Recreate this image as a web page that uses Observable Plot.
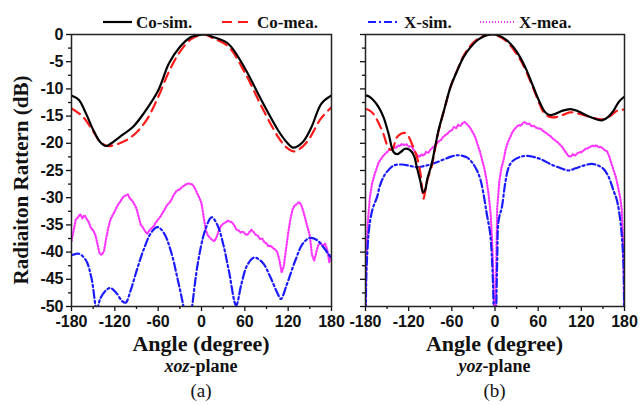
<!DOCTYPE html>
<html><head><meta charset="utf-8">
<script src="https://cdn.jsdelivr.net/npm/d3@7"></script>
<script src="https://cdn.jsdelivr.net/npm/@observablehq/plot@0.6"></script>
<style>
body{margin:0;background:#fff;width:640px;height:405px;overflow:hidden}
#legend{height:30px}
#row{display:flex;height:375px}
svg{overflow:visible}
</style></head><body>
<div id="legend"></div><div id="row"></div>
<script>
// ---------- data ----------
const seriesNames = ["Co-sim.", "Co-mea.", "X-sim.", "X-mea."];
const xTicks = [-180, -120, -60, 0, 60, 120, 180];
const yTicks = [-50, -45, -40, -35, -30, -25, -20, -15, -10, -5, 0];

// (a) xoz-plane
const xozCoSimAngle = [-180,-170,-160,-150,-140,-132,-125,-110,-95,-80,-60,-45,-30,-15,0,5,15,37,60,83,106,118,127,140,152,166,180];
const xozCoSimDb    = [-11.2,-12.0,-14.5,-17.5,-19.8,-20.5,-20.0,-18.5,-17.0,-14.5,-10.3,-5.3,-2.3,-0.5,-0.05,0,-0.4,-1.7,-6.2,-12.1,-17.6,-19.8,-20.8,-19.8,-17.1,-12.7,-11.2];
const xozCoMeaAngle = [-180,-165,-150,-140,-130,-120,-105,-90,-75,-60,-45,-30,-15,0,5,15,37,60,83,106,118,128,140,150,165,180];
const xozCoMeaDb    = [-13.6,-15.0,-17.8,-19.8,-20.5,-20.3,-19.5,-18.0,-15.5,-11.5,-6.8,-3.2,-0.9,-0.05,0,-0.6,-2.2,-7.0,-13.2,-18.8,-20.8,-21.5,-20.6,-19.0,-15.5,-13.4];
const xozXSimAngle  = [-180,-170,-160,-152,-145,-140,-132,-126,-118,-110,-105,-98,-90,-80,-70,-61,-52,-42,-33,-25,-20,-17,-13,-5,5,14,22,30,38,48,55,63,73,85,95,105,110,118,130,140,150,160,170,180];
const xozXSimDb     = [-40.6,-40.3,-41.5,-45,-50.5,-48.5,-47,-46.6,-47.5,-49,-49.3,-47,-43.5,-39.5,-36.5,-35.4,-36.5,-40,-45,-50,-54,-54,-50,-42,-36,-33.6,-35,-38.5,-43.5,-49.8,-46,-42.5,-41,-42,-44.5,-47.5,-48.6,-46,-41.5,-38.5,-37.4,-37.8,-39.3,-41.2];
const xozXMeaAngle  = [-180,-177,-174,-171,-168,-165,-162,-159,-156,-153,-150,-147,-144,-141,-138,-135,-132,-129,-126,-123,-120,-117,-114,-111,-108,-105,-102,-99,-96,-93,-90,-87,-84,-81,-78,-75,-72,-69,-66,-63,-60,-57,-54,-51,-48,-45,-42,-39,-36,-33,-30,-27,-24,-21,-18,-15,-12,-9,-6,-3,0,3,6,9,12,15,18,21,24,27,30,33,36,39,42,45,48,51,54,57,60,63,66,69,72,75,78,81,84,87,90,93,96,99,102,105,108,111,114,117,120,123,126,129,132,135,138,141,144,147,150,153,156,159,162,165,168,171,174,177,180];
const xozXMeaDb     = [-38.0,-36.0,-34.0,-33.6,-33.0,-33.8,-33.2,-33.9,-34.5,-35.6,-36.0,-36.8,-38.5,-40.3,-40.5,-39.8,-37.5,-35.5,-34.0,-33.2,-32.5,-31.6,-31.0,-30.4,-29.8,-29.6,-29.4,-30.2,-30.5,-31.2,-32.0,-33.5,-35.0,-35.5,-36.2,-36.6,-36.0,-35.6,-35.2,-34.5,-34.0,-33.5,-32.8,-32.2,-31.4,-31.0,-30.5,-29.6,-29.0,-28.6,-28.5,-28.0,-27.8,-27.5,-27.4,-27.5,-27.6,-28.3,-29.2,-30.0,-31.0,-33.5,-36.0,-37.0,-37.4,-37.8,-38.0,-37.2,-36.0,-35.2,-34.8,-34.6,-34.2,-34.4,-34.5,-35.0,-35.8,-36.0,-36.4,-36.2,-36.6,-36.9,-36.4,-35.9,-36.3,-36.8,-37.0,-37.6,-37.5,-38.2,-38.4,-39.0,-38.8,-39.3,-39.5,-40.0,-41.5,-43.8,-42.5,-39.5,-36.5,-34.0,-32.2,-31.4,-31.2,-30.8,-31.3,-32.5,-34.0,-35.5,-37.0,-40.5,-41.6,-40.0,-38.6,-38.3,-38.9,-38.4,-39.5,-41.9,-40.5];

// (b) yoz-plane
const yozCoSimAngle = [-180,-175,-169,-162,-155,-148,-141,-136,-131,-125,-120,-115.5,-112,-108.6,-104,-100,-97,-94,-88,-83,-78.5,-70,-62,-52,-44,-35,-25,-15,-5,5,16.6,26,35,44,53.5,62,69.8,76,83.7,94,104.5,114,123,135,148.6,157,164.8,172,180];
const yozCoSimDb    = [-11.2,-11.4,-12.1,-13.3,-15.2,-18.2,-21.6,-22.0,-21.6,-21.0,-21.1,-21.6,-22.5,-24.4,-26.8,-29.0,-28.5,-26.5,-23.8,-20.5,-17.6,-13.5,-9.7,-6.5,-4.2,-2.5,-1.1,-0.3,0,-0.2,-1.1,-2.4,-4.2,-6.6,-9.7,-12.4,-14.3,-14.8,-14.6,-14.0,-13.7,-14.0,-14.6,-15.3,-15.8,-15.2,-14.0,-12.4,-11.4];
const yozCoMeaAngle = [-180,-175,-169,-162,-155,-149,-145,-142,-139,-136.4,-130,-125,-120,-115.5,-112,-108.6,-104,-101,-99.4,-97,-94,-88,-83,-78.5,-70,-62,-52,-44,-35,-25,-15,-5,5,16.6,26,35,44,53.5,62,67.5,75,84.7,94,104,114,123,135,150,160,170,180];
const yozCoMeaDb    = [-13.7,-13.9,-14.6,-16.2,-18.3,-20.6,-21.2,-21.0,-19.8,-18.9,-18.2,-18.1,-18.8,-20.1,-21.2,-22.5,-25.2,-28.5,-30.2,-28.8,-26.8,-24.2,-20.8,-17.8,-13.6,-9.7,-6.4,-4.0,-2.2,-0.9,-0.2,0,-0.3,-1.3,-2.8,-4.6,-7.0,-10.0,-12.8,-14.3,-15.1,-15.2,-14.8,-14.3,-14.5,-14.8,-15.3,-15.6,-15.0,-14.0,-13.8];
const yozXSimAngle  = [-180,-179,-178,-176,-173.5,-170,-164,-160,-155,-150,-141,-129,-120,-108,-99,-90,-81,-70,-60,-53,-45,-39,-32,-25,-20,-16,-11.4,-6.7,-3,0,3,5,9.6,14,19,25,35,45,53.5,65,76.7,90,102,112,123,134,142,150.8,158,164.8,169.5,173,176,178.5,180];
const yozXSimDb     = [-60,-45,-41.5,-37,-34.2,-32,-29.9,-27.8,-26.2,-25.2,-24.1,-23.9,-24.1,-24.4,-24.2,-23.9,-23.5,-22.9,-22.4,-22.2,-22.3,-22.6,-23.5,-25,-26.8,-29.3,-33,-36.6,-45,-60,-42,-34.2,-31.7,-27.5,-24.4,-23.2,-22.5,-22.3,-22.5,-23.0,-23.8,-24.5,-25,-24.6,-24.1,-23.8,-24.0,-24.7,-26.2,-28.7,-30.5,-33,-36.6,-42,-60];
const yozXMeaAngle  = [-180,-179,-177,-174,-171,-168,-165,-162,-159,-156,-153,-150,-147,-144,-141,-138,-135,-132,-129,-126,-123,-120,-117,-114,-111,-108,-105,-102,-99,-96,-93,-90,-87,-84,-81,-78,-75,-72,-69,-66,-63,-60,-57,-54,-51,-48,-45,-42,-39,-36,-33,-30,-27,-24,-21,-18,-15,-12,-9,-6,-4,-2,-1,0,1,2,3,6,9,12,15,18,21,24,27,30,33,36,39,42,45,48,51,54,57,60,63,66,69,72,75,78,81,84,87,90,93,96,99,102,105,108,111,114,117,120,123,126,129,132,135,138,141,144,147,150,153,156,159,162,165,168,171,174,176,178,179,180];
const yozXMeaDb     = [-60,-42,-35,-30,-27.5,-26,-24.8,-23.6,-23,-22.4,-22,-21.6,-21.2,-21,-20.7,-20.9,-20.4,-20.5,-20.1,-20.3,-20.2,-20.6,-20.5,-21.0,-21.6,-22.2,-22.5,-22.0,-22.3,-21.6,-21.8,-21.2,-20.8,-20.5,-20.1,-19.6,-19.4,-18.8,-18.5,-18.2,-17.8,-17.6,-17.0,-17.2,-16.6,-16.8,-16.3,-16.1,-16.5,-16.9,-17.5,-18.2,-19.0,-20.3,-21.5,-23.0,-24.5,-26.5,-29.3,-33,-38,-45,-52,-60,-50,-40,-32,-27,-24.5,-23,-21,-19.8,-18.9,-18.0,-17.4,-17.0,-16.6,-16.8,-16.2,-16.1,-16.5,-16.4,-16.9,-16.8,-17.1,-17.3,-17.2,-17.7,-17.9,-18.2,-18.5,-18.8,-19.2,-19.5,-19.8,-20.2,-20.6,-21.2,-21.8,-22.3,-22.5,-22.0,-22.3,-21.9,-21.6,-21.7,-21.3,-21.0,-20.9,-20.7,-20.4,-20.6,-20.3,-20.8,-20.6,-21.0,-21.3,-21.5,-22.5,-23.8,-25.0,-26.2,-28.0,-30.0,-32,-38,-44,-60];

// ---------- styles ----------
const styles = {
  "Co-sim.": {stroke: "#000000", strokeWidth: 2.2, strokeDasharray: null, curve: "catmull-rom"},
  "Co-mea.": {stroke: "#ff1a1a", strokeWidth: 2.2, strokeDasharray: "10,6", curve: "catmull-rom"},
  "X-sim.":  {stroke: "#1a1aff", strokeWidth: 2.2, strokeDasharray: "8,3,2,3", curve: "catmull-rom"},
  "X-mea.":  {stroke: "#ff33ff", strokeWidth: 2.2, strokeDasharray: "1,2", curve: "linear"}
};
const zip = (a, v) => a.map((x, i) => ({angle: x, db: v[i]}));

const panels = [
  {plane: "xoz", tag: "(a)", width: 348, ml: 71, mr: 17, showY: true,
   data: [zip(xozCoSimAngle, xozCoSimDb), zip(xozCoMeaAngle, xozCoMeaDb), zip(xozXSimAngle, xozXSimDb), zip(xozXMeaAngle, xozXMeaDb)]},
  {plane: "yoz", tag: "(b)", width: 292, ml: 17, mr: 16, showY: false,
   data: [zip(yozCoSimAngle, yozCoSimDb), zip(yozCoMeaAngle, yozCoMeaDb), zip(yozXSimAngle, yozXSimDb), zip(yozXMeaAngle, yozXMeaDb)]}
];

const H = 375, MT = 4, MB = 99;
const serif = "'Liberation Serif', 'Times New Roman', serif";
const row = document.getElementById("row");

for (const p of panels) {
  const minorX = d3.range(-150, 180, 60);
  const minorY = d3.range(-47.5, 0, 5);
  const lines = [];
  const order = [3, 2, 1, 0];
  for (const i of order) {
    const s = styles[seriesNames[i]];
    lines.push(Plot.line(p.data[i], {x: "angle", y: "db", stroke: s.stroke, strokeWidth: s.strokeWidth,
      strokeDasharray: s.strokeDasharray, curve: s.curve, clip: true}));
  }
  const chart = Plot.plot({
    width: p.width, height: H,
    marginLeft: p.ml, marginRight: p.mr, marginTop: MT, marginBottom: MB,
    x: {domain: [-180, 180]},
    y: {domain: [-50, 0]},
    style: {fontFamily: "'Liberation Sans', Arial, sans-serif", fontSize: "16px", fontWeight: "bold", color: "#111", background: "white", overflow: "visible"},
    marks: [
      Plot.axisY(minorY, {tickSize: 3, tickFormat: () => "", label: null, strokeWidth: 1.3}),
      Plot.axisY(yTicks, {tickSize: 5, tickPadding: 3, label: null, strokeWidth: 1.3, tickFormat: p.showY ? (d => String(d)) : (() => "")}),
      Plot.axisX(minorX, {tickSize: 3, tickFormat: () => "", label: null, strokeWidth: 1.3}),
      Plot.axisX(xTicks, {tickSize: 5, tickPadding: 4, label: null, strokeWidth: 1.3, tickFormat: d => String(d)}),
      ...lines,
      Plot.frame({stroke: "#222", strokeWidth: 1.5})
    ]
  });
  const svg = d3.select(chart);
  const cx = p.ml + (p.width - p.ml - p.mr) / 2;
  svg.append("text").attr("x", cx).attr("y", 321).attr("text-anchor", "middle")
    .style("font-family", serif).style("font-size", "22px").style("font-weight", "bold").attr("fill", "#111")
    .text("Angle (degree)");
  const sub = svg.append("text").attr("x", cx).attr("y", 342).attr("text-anchor", "middle")
    .style("font-family", serif).style("font-size", "18px").style("font-weight", "bold").attr("fill", "#111");
  sub.append("tspan").style("font-style", "italic").text(p.plane);
  sub.append("tspan").text("-plane");
  svg.append("text").attr("x", cx).attr("y", 367).attr("text-anchor", "middle")
    .style("font-family", serif).style("font-size", "19px").style("font-weight", "normal").attr("fill", "#111")
    .text(p.tag);
  if (p.showY) {
    svg.append("text").attr("transform", "translate(28,150) rotate(-90)").attr("text-anchor", "middle")
      .style("font-family", serif).style("font-size", "21px").style("font-weight", "bold").attr("fill", "#111")
      .text("Radiaiton Rattern (dB)");
  }
  row.appendChild(chart);
}

// ---------- legend ----------
const legendPos = [{x0: 103, x1: 132, tx: 136}, {x0: 222, x1: 250, tx: 257}, {x0: 368, x1: 400, tx: 404}, {x0: 480, x1: 516, tx: 519}];
const lg = d3.select("#legend").append("svg").attr("width", 640).attr("height", 30);
seriesNames.forEach((name, i) => {
  const s = styles[name], pos = legendPos[i];
  lg.append("line").attr("x1", pos.x0).attr("x2", pos.x1).attr("y1", 22).attr("y2", 22)
    .attr("stroke", s.stroke).attr("stroke-width", s.strokeWidth).attr("stroke-dasharray", s.strokeDasharray);
  lg.append("text").attr("x", pos.tx).attr("y", 28).style("font-family", serif).style("font-size", "17px")
    .style("font-weight", "bold").attr("fill", "#111").text(name);
});
</script>
</body></html>
